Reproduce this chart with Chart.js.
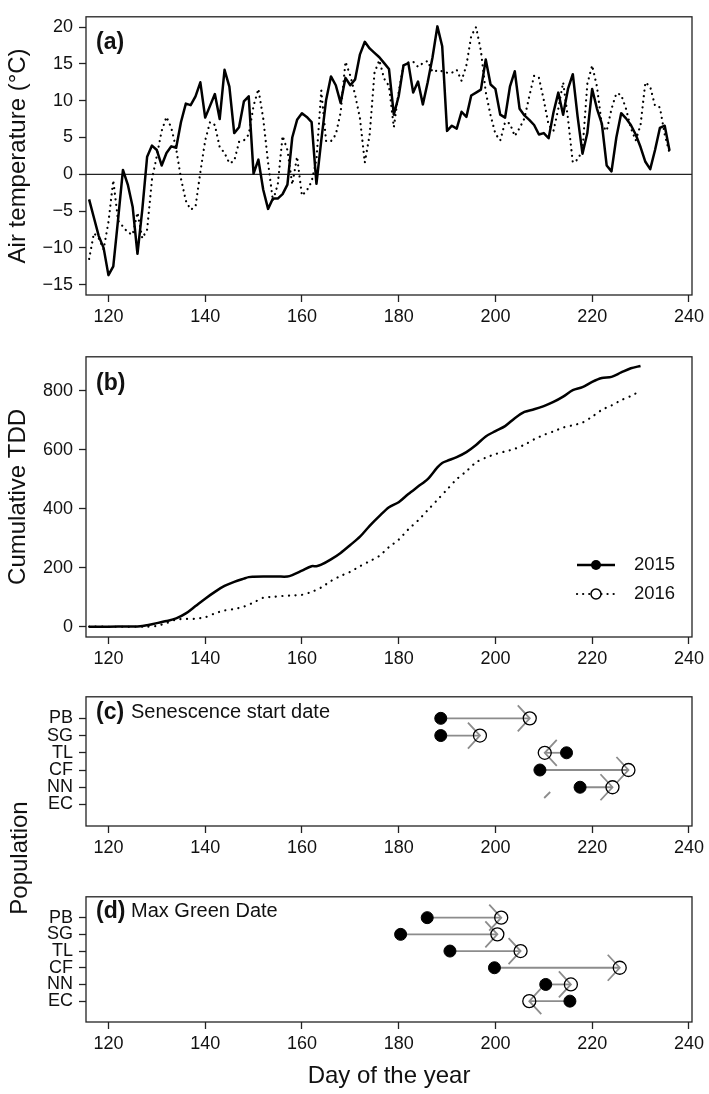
<!DOCTYPE html>
<html>
<head>
<meta charset="utf-8">
<script src="https://cdn.jsdelivr.net/npm/chart.js@4.4.0/dist/chart.umd.min.js"></script>
<style>
html,body{margin:0;padding:0;background:#fff;}
#wrap{position:relative;width:709px;height:1094px;overflow:hidden;background:#fff;}
canvas{position:absolute;left:0;}
#pop{position:absolute;left:-131px;top:843px;width:300px;height:30px;line-height:30px;text-align:center;
 font-family:"Liberation Sans",Arial,Helvetica,sans-serif;font-size:24px;color:#111;transform:rotate(-90deg);transform-origin:50% 50%;}
</style>
</head>
<body>
<div id="wrap">
  <canvas id="cA" width="709" height="340" style="top:0px"></canvas>
  <canvas id="cB" width="709" height="340" style="top:340px"></canvas>
  <canvas id="cC" width="709" height="200" style="top:680px"></canvas>
  <canvas id="cD" width="709" height="214" style="top:880px"></canvas>
  <div id="pop">Population</div>
</div>
<script>
// ---------------- DATA ----------------
const days = [116,117,118,119,120,121,122,123,124,125,
126,127,128,129,130,131,132,133,134,135,
136,137,138,139,140,141,142,143,144,145,
146,147,148,149,150,151,152,153,154,155,
156,157,158,159,160,161,162,163,164,165,
166,167,168,169,170,171,172,173,174,175,
176,177,178,179,180,181,182,183,184,185,
186,187,188,189,190,191,192,193,194,195,
196,197,198,199,200,201,202,203,204,205,
206,207,208,209,210,211,212,213,214,215,
216,217,218,219,220,221,222,223,224,225,
226,227,228,229,230,231,232,233,234,235,
236];

const temp2015 = [-3.4,-5.9,-8.4,-10.0,-13.7,-12.5,-6.1,0.6,-1.4,-4.4,
-10.8,-4.8,2.4,3.9,3.3,1.2,2.9,3.8,3.6,7.1,
9.6,9.4,10.6,12.5,7.7,9.3,10.9,7.5,14.2,11.9,
5.6,6.4,9.9,10.6,0.1,2.0,-2.1,-4.7,-3.3,-3.3,
-2.7,-1.4,5.0,7.4,8.3,7.8,7.1,-1.3,4.6,10.1,
13.3,12.1,9.7,13.1,12.1,12.9,16.3,18.0,17.1,16.5,
15.9,15.1,14.3,8.1,10.6,14.8,15.1,11.1,12.6,9.5,
12.5,15.9,20.1,17.4,5.9,6.6,6.2,8.5,7.8,10.7,
11.1,11.5,15.6,12.2,11.6,8.1,7.7,11.9,14.0,8.9,
8.0,7.4,6.7,5.4,5.6,4.9,8.4,11.1,8.1,11.6,
13.6,7.8,2.8,5.6,11.6,8.9,6.9,1.2,0.4,5.0,
8.3,7.6,6.7,5.4,3.7,1.7,0.7,3.3,6.3,6.6,
3.2];

const temp2016 = [-11.5,-8.0,-8.7,-10.2,-6.5,-0.8,-6.3,-7.1,-7.9,-8.2,
-5.2,-8.7,-7.5,-0.7,2.5,5.9,7.8,6.3,3.5,-0.6,
-3.6,-4.8,-4.4,0.3,4.6,7.1,6.7,3.7,2.9,1.5,
1.8,4.4,4.6,5.4,9.3,11.6,7.6,1.6,-3.6,-1.4,
5.2,3.3,-1.4,2.4,-2.9,-2.2,-1.0,2.0,11.4,4.5,
4.5,5.4,8.4,15.3,13.4,10.8,7.6,1.6,5.4,13.8,
15.5,13.0,12.0,6.4,11.2,14.8,15.2,15.3,14.6,15.1,
15.4,13.9,14.1,14.0,13.8,13.8,14.2,12.7,14.8,18.8,
20.0,16.8,11.2,8.0,5.5,4.6,7.1,6.9,5.2,6.3,
7.6,10.6,13.4,13.1,10.1,6.7,5.9,8.9,12.5,7.6,
1.6,2.0,3.3,12.3,14.8,11.9,6.7,5.9,8.9,11.0,
10.8,8.9,6.3,4.6,6.7,12.5,11.9,9.3,9.1,5.4,
2.9];

const tddDays2015 = [116,120,124,126,127,128,130,132,134,136,138,140,142,144,146,148,149,150,152,155,
157,158,160,162,163,164,166,168,170,172,174,176,178,180,182,184,186,188,189,190,
192,194,196,198,200,202,204,206,208,210,212,214,216,218,220,222,224,226,228,230];
const tdd2015 = [0,0,1,1,2,5,12,19,28,45,70,95,118,138,152,163,168,169,170,170,
170,175,190,205,205,210,228,250,277,305,342,375,405,422,450,475,500,540,555,562,
575,592,616,645,663,680,707,728,737,748,762,780,802,812,830,843,847,862,876,884];

const tddDays2016 = [116,128,130,132,134,136,138,140,142,144,146,148,150,152,154,156,158,160,162,164,
166,168,170,172,174,176,178,180,182,184,186,188,190,192,194,196,198,200,202,204,
206,208,210,212,214,216,218,220,222,224,226,228,230];
const tdd2016 = [0,0,3,12,24,26,27,32,45,55,60,68,82,98,101,104,106,108,118,133,
155,172,186,205,222,240,270,295,330,360,395,430,465,500,527,557,573,585,594,603,
617,635,650,662,675,683,692,712,735,750,768,782,800];

const populations = ['PB','SG','TL','CF','NN','EC'];
const senescence2015 = [188.7,188.7,214.7,209.2,217.5,null];
const senescence2016 = [207.1,196.8,210.2,227.5,224.2,null];
const senescenceStubEC = 210.7;
const maxGreen2015 = [185.9,180.4,190.6,199.8,210.4,215.4];
const maxGreen2016 = [201.2,200.4,205.2,225.7,215.6,207.0];

const years = ['2015','2016'];
const dayTicks = [120,140,160,180,200,220,240];
const tempTicks = [-15,-10,-5,0,5,10,15,20];
const tddTicks = [0,200,400,600,800];
const zeroLine = 0;

// ---------------- STYLE / HELPERS ----------------
const FONT = '"Liberation Sans", Arial, Helvetica, sans-serif';
Chart.defaults.font.family = FONT;
Chart.defaults.color = '#111';
const X_MIN = 115.36, X_MAX = 240.64;
const INK = '#111';

function xAxis(height, title) {
  const cfg = {
    type: 'linear', position: 'bottom', min: X_MIN, max: X_MAX,
    grid: {display: true, drawOnChartArea: false, drawTicks: true, tickLength: 7, tickWidth: 1.3, tickColor: '#222'},
    border: {display: false},
    ticks: {font: {size: 18}, color: INK, padding: 4, maxRotation: 0, autoSkip: false, callback: v => String(v)},
    afterBuildTicks: s => { s.ticks = dayTicks.map(v => ({value: v})); },
    afterFit: s => { s.height = height; }
  };
  if (title) cfg.title = {display: true, text: title, color: INK, font: {size: 24}, padding: {top: 0, bottom: 3}};
  return cfg;
}
function yAxis(min, max, ticks, cb, title) {
  const cfg = {
    type: 'linear', position: 'left', min: min, max: max,
    grid: {display: true, drawOnChartArea: false, drawTicks: true, tickLength: 7, tickWidth: 1.3, tickColor: '#222'},
    border: {display: false},
    ticks: {font: {size: 18}, color: INK, padding: 6, autoSkip: false, callback: cb},
    afterBuildTicks: s => { s.ticks = ticks.map(v => ({value: v})); },
    afterFit: s => { s.width = 86; }
  };
  if (title) cfg.title = {display: true, text: title, color: INK, font: {size: 24}, padding: {top: 4, bottom: 0}};
  return cfg;
}
const minus = v => (v < 0 ? '\u2212' + Math.abs(v) : String(v));

const boxPlugin = {
  id: 'box',
  afterDraw(chart) {
    const {ctx, chartArea: a} = chart;
    ctx.save(); ctx.strokeStyle = '#222'; ctx.lineWidth = 1.3;
    ctx.strokeRect(a.left, a.top, a.right - a.left, a.bottom - a.top);
    ctx.restore();
  }
};
const panelLabelPlugin = {
  id: 'panelLabel',
  afterDraw(chart, args, o) {
    const {ctx, chartArea: a} = chart;
    ctx.save(); ctx.fillStyle = INK; ctx.textBaseline = 'middle'; ctx.textAlign = 'left';
    ctx.font = 'bold 23px ' + FONT;
    ctx.fillText(o.tag, a.left + 10, a.top + o.dy);
    if (o.text) { ctx.font = '20px ' + FONT; ctx.fillText(o.text, a.left + 45, a.top + o.dy); }
    ctx.restore();
  }
};
const zeroPlugin = {
  id: 'zeroLine',
  beforeDatasetsDraw(chart) {
    const {ctx, chartArea: a, scales: {y}} = chart;
    const py = y.getPixelForValue(zeroLine);
    ctx.save(); ctx.strokeStyle = '#222'; ctx.lineWidth = 1.3;
    ctx.beginPath(); ctx.moveTo(a.left, py); ctx.lineTo(a.right, py); ctx.stroke();
    ctx.restore();
  }
};
const legendPlugin = {
  id: 'tddLegend',
  afterDraw(chart) {
    const {ctx, chartArea: a} = chart;
    const rows = [{label: years[0], solid: true, dy: -72}, {label: years[1], solid: false, dy: -43}];
    rows.forEach(r => {
      const yy = a.bottom + r.dy, x0 = a.right - 115, x1 = a.right - 77, xc = (x0 + x1) / 2;
      ctx.save(); ctx.strokeStyle = '#000';
      if (r.solid) { ctx.lineWidth = 2.5; ctx.setLineDash([]); ctx.lineCap = 'butt'; }
      else { ctx.lineWidth = 2.2; ctx.setLineDash([0.1, 6]); ctx.lineCap = 'round'; }
      ctx.beginPath(); ctx.moveTo(x0, yy); ctx.lineTo(x1, yy); ctx.stroke();
      ctx.setLineDash([]);
      ctx.beginPath(); ctx.arc(xc, yy, 5, 0, 2 * Math.PI);
      if (r.solid) { ctx.fillStyle = '#000'; ctx.fill(); }
      else { ctx.fillStyle = '#fff'; ctx.fill(); ctx.lineWidth = 1.5; ctx.stroke(); }
      ctx.fillStyle = INK; ctx.font = '18.5px ' + FONT; ctx.textBaseline = 'middle'; ctx.textAlign = 'left';
      ctx.fillText(r.label, a.right - 58, yy);
      ctx.restore();
    });
  }
};
const arrowPlugin = {
  id: 'arrows',
  beforeDatasetsDraw(chart, args, o) {
    const {ctx, scales: {x, y}} = chart;
    ctx.save(); ctx.strokeStyle = '#8c8c8c'; ctx.lineWidth = 1.8;
    o.from.forEach((f, i) => {
      const t = o.to[i];
      if (f == null || t == null) return;
      const py = y.getPixelForValue(populations.length - i);
      const x0 = x.getPixelForValue(f), x1 = x.getPixelForValue(t);
      const dir = Math.sign(x1 - x0) || 1;
      ctx.beginPath(); ctx.moveTo(x0, py); ctx.lineTo(x1, py); ctx.stroke();
      ctx.beginPath(); ctx.moveTo(x1 - dir * 12, py - 13); ctx.lineTo(x1, py); ctx.lineTo(x1 - dir * 12, py + 13); ctx.stroke();
    });
    if (o.stub != null) {
      const px = x.getPixelForValue(o.stub), py = y.getPixelForValue(1.55);
      ctx.beginPath(); ctx.moveTo(px - 3, py + 3); ctx.lineTo(px + 3, py - 3); ctx.stroke();
    }
    ctx.restore();
  }
};

const pts = (xs, ys) => xs.map((d, i) => ({x: d, y: ys[i]}));
const rowPts = vals => vals.map((v, i) => (v == null ? null : {x: v, y: populations.length - i})).filter(p => p);
const popLabel = v => populations[populations.length - v] || '';

const common = {responsive: false, animation: false, events: []};

// ---------------- PANEL (a) ----------------
new Chart(document.getElementById('cA'), {
  type: 'line',
  data: {datasets: [
    {label: years[1], data: pts(days, temp2016), borderColor: '#000', borderWidth: 2.2, borderDash: [0.1, 5.5], borderCapStyle: 'round', pointRadius: 0, tension: 0},
    {label: years[0], data: pts(days, temp2015), borderColor: '#000', borderWidth: 2.5, borderJoinStyle: 'round', pointRadius: 0, tension: 0}
  ]},
  options: Object.assign({}, common, {
    layout: {padding: {top: 3, right: 17, bottom: 0, left: 0}},
    scales: {x: xAxis(45), y: yAxis(-16.4, 21.4, tempTicks, minus, 'Air temperature (°C)')},
    plugins: {legend: {display: false}, tooltip: {enabled: false}, panelLabel: {tag: '(a)', dy: 26}}
  }),
  plugins: [zeroPlugin, boxPlugin, panelLabelPlugin]
});

// ---------------- PANEL (b) ----------------
new Chart(document.getElementById('cB'), {
  type: 'line',
  data: {datasets: [
    {label: years[1], data: pts(tddDays2016, tdd2016), borderColor: '#000', borderWidth: 2.2, borderDash: [0.1, 6.5], borderCapStyle: 'round', pointRadius: 0, tension: 0.3},
    {label: years[0], data: pts(tddDays2015, tdd2015), borderColor: '#000', borderWidth: 2.5, borderJoinStyle: 'round', pointRadius: 0, tension: 0.3}
  ]},
  options: Object.assign({}, common, {
    layout: {padding: {top: 11, right: 17, bottom: 0, left: 0}},
    scales: {x: xAxis(43), y: yAxis(-35, 915, tddTicks, v => String(v), 'Cumulative TDD')},
    plugins: {legend: {display: false}, tooltip: {enabled: false}, panelLabel: {tag: '(b)', dy: 27}}
  }),
  plugins: [boxPlugin, panelLabelPlugin, legendPlugin]
});

// ---------------- PANELS (c) and (d) ----------------
function dotChart(id, v2015, v2016, stub, tag, text, padTop, axisH, xTitle, dy) {
  return new Chart(document.getElementById(id), {
    type: 'scatter',
    data: {datasets: [
      {label: years[0], data: rowPts(v2015), pointRadius: 6, pointBackgroundColor: '#000', pointBorderColor: '#000', pointBorderWidth: 1, showLine: false},
      {label: years[1], data: rowPts(v2016), pointRadius: 6.5, pointBackgroundColor: 'rgba(255,255,255,0)', pointBorderColor: '#000', pointBorderWidth: 1.3, showLine: false}
    ]},
    options: Object.assign({}, common, {
      layout: {padding: {top: padTop, right: 17, bottom: 0, left: 0}},
      scales: {x: xAxis(axisH, xTitle), y: yAxis(-0.25, 7.25, [1, 2, 3, 4, 5, 6], popLabel)},
      plugins: {legend: {display: false}, tooltip: {enabled: false},
        panelLabel: {tag: tag, text: text, dy: dy},
        arrows: {from: v2015, to: v2016, stub: stub}}
    }),
    plugins: [arrowPlugin, boxPlugin, panelLabelPlugin]
  });
}
dotChart('cC', senescence2015, senescence2016, senescenceStubEC, '(c)', 'Senescence start date', 12, 54, null, 16);
dotChart('cD', maxGreen2015, maxGreen2016, null, '(d)', 'Max Green Date', 7, 72, 'Day of the year', 15);
</script>
</body>
</html>
